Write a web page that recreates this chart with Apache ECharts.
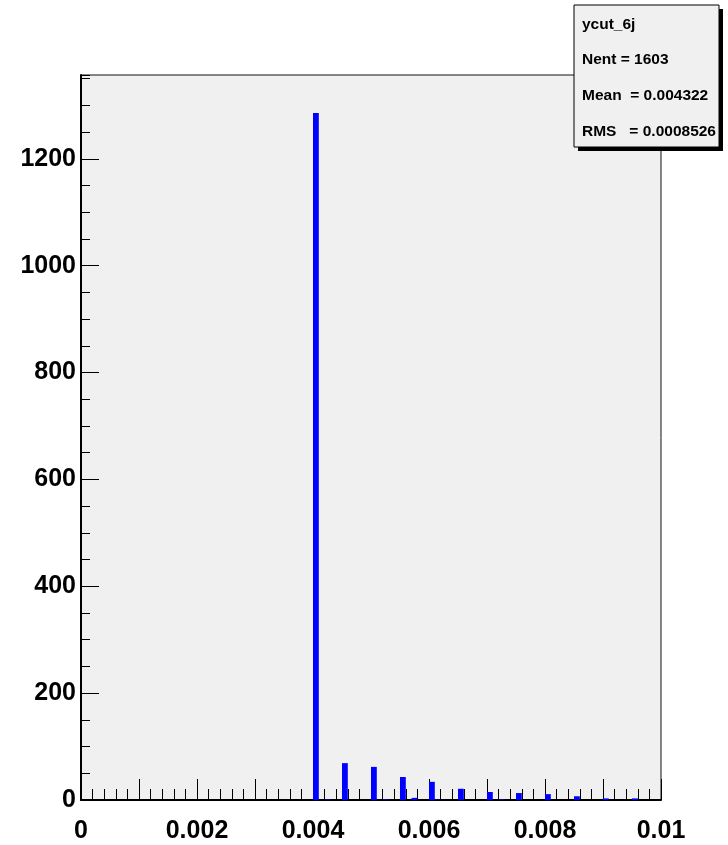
<!DOCTYPE html>
<html>
<head>
<meta charset="utf-8">
<script src="https://cdn.jsdelivr.net/npm/echarts@6/dist/echarts.min.js"></script>
<style>
html,body{margin:0;padding:0;background:#fff;}
#chart{width:728px;height:845px;}
</style>
</head>
<body>
<div id="chart"></div>
<script>
// Histogram "ycut_6j": 100 bins over [0, 0.01], only non-empty bins listed
const binWidth = 0.0001;
const binLow = [0.0040, 0.0042, 0.0045, 0.0050, 0.0052, 0.0055, 0.0057, 0.0060, 0.0061, 0.0065, 0.0070, 0.0072, 0.0075, 0.0080, 0.0085, 0.0090, 0.0095];
const counts = [1286, 1, 69, 62, 1, 43, 4, 34, 1, 21, 15, 1, 13, 11, 7, 3, 3];
const xTickLabels = ['0', '0.002', '0.004', '0.006', '0.008', '0.01'];
const yTickLabels = ['0', '200', '400', '600', '800', '1000', '1200'];
const statsLines = ['ycut_6j', 'Nent = 1603', 'Mean  = 0.004322', 'RMS   = 0.0008526'];

const data = binLow.map((x, i) => [x, x + binWidth, counts[i]]);

const chart = echarts.init(document.getElementById('chart'), null, {renderer: 'canvas'});
const labelFont = {fontFamily: 'Liberation Sans', fontWeight: 'bold', fontSize: 25, color: '#000'};

const statFont = 'bold 15.5px "Liberation Sans"';
const statGraphics = [
  {type: 'rect', shape: {x: 578, y: 9, width: 145, height: 142}, style: {fill: '#000'}, z: 100},
  {type: 'rect', shape: {x: 574, y: 5, width: 145, height: 142}, style: {fill: '#f0f0f0', stroke: '#000', lineWidth: 1}, z: 101}
];
const statY = [25, 60, 96, 132];
statsLines.forEach((t, i) => {
  statGraphics.push({type: 'text', x: 582, y: statY[i], z: 102,
    style: {text: t, font: statFont, fill: '#000', verticalAlign: 'middle', align: 'left'}});
});

chart.setOption({
  animation: false,
  backgroundColor: '#fff',
  grid: {left: 81, right: 67, top: 75, bottom: 45, containLabel: false, outerBoundsMode: 'none',
    show: true, backgroundColor: '#f0f0f0', borderColor: '#111', borderWidth: 1},
  xAxis: {
    type: 'value', min: 0, max: 0.01, interval: 0.001, position: 'bottom',
    axisLine: {show: true, onZero: false, lineStyle: {color: '#000', width: 2}},
    axisTick: {show: true, inside: true, length: 21, lineStyle: {color: '#000', width: 1}},
    minorTick: {show: true, splitNumber: 5, length: 11, lineStyle: {color: '#000', width: 1}},
    splitLine: {show: false},
    axisLabel: Object.assign({margin: 19, showMinLabel: true, showMaxLabel: true,
      formatter: function (v) {
        const k = Math.round(v / 0.001);
        if (k % 2 !== 0) return '';
        return xTickLabels[k / 2];
      }}, labelFont)
  },
  yAxis: [{
    type: 'value', min: 0, max: 1357, interval: 200, position: 'left',
    axisLine: {show: true, onZero: false, lineStyle: {color: '#000', width: 2}},
    axisTick: {show: true, inside: true, length: 18, lineStyle: {color: '#000', width: 1}},
    splitLine: {show: false},
    axisLabel: Object.assign({margin: 5, showMaxLabel: false,
      formatter: function (v) {
        const k = Math.round(v / 200);
        if (Math.abs(v - k * 200) > 1e-6 || k >= yTickLabels.length) return '';
        return yTickLabels[k];
      }}, labelFont)
  }, {
    type: 'value', min: 0, max: 1357, interval: 50, position: 'left',
    axisLine: {show: false},
    axisTick: {show: true, inside: true, length: 9, lineStyle: {color: '#000', width: 1}},
    splitLine: {show: false},
    axisLabel: {show: false}
  }],
  series: [{
    type: 'custom',
    xAxisIndex: 0, yAxisIndex: 0,
    encode: {x: [0, 1], y: 2},
    data: data,
    renderItem: function (params, api) {
      const p0 = api.coord([api.value(0), 0]);
      const p1 = api.coord([api.value(1), api.value(2)]);
      return {type: 'rect',
        shape: {x: p0[0], y: p1[1], width: p1[0] - p0[0], height: p0[1] - p1[1]},
        style: {fill: '#0000ff'}};
    },
    z: 1
  }],
  graphic: statGraphics
});
</script>
</body>
</html>
